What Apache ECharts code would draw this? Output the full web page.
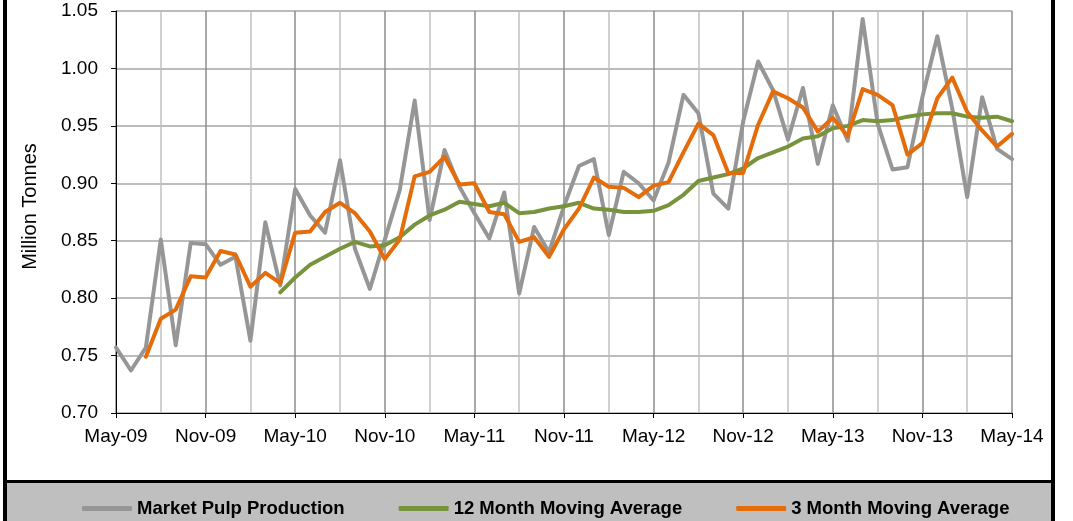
<!DOCTYPE html>
<html>
<head>
<meta charset="utf-8">
<script src="https://cdn.jsdelivr.net/npm/echarts@6/dist/echarts.min.js"></script>
<style>
  html, body { margin: 0; padding: 0; background: #fff; }
  #chartDom { width: 1073px; height: 521px; }
</style>
</head>
<body>
<div id="chartDom"></div>
<script>
// months on the x axis
var months = ['May-09', 'Jun-09', 'Jul-09', 'Aug-09', 'Sep-09', 'Oct-09', 'Nov-09', 'Dec-09',
  'Jan-10', 'Feb-10', 'Mar-10', 'Apr-10', 'May-10', 'Jun-10', 'Jul-10', 'Aug-10', 'Sep-10', 'Oct-10', 'Nov-10', 'Dec-10',
  'Jan-11', 'Feb-11', 'Mar-11', 'Apr-11', 'May-11', 'Jun-11', 'Jul-11', 'Aug-11', 'Sep-11', 'Oct-11', 'Nov-11', 'Dec-11',
  'Jan-12', 'Feb-12', 'Mar-12', 'Apr-12', 'May-12', 'Jun-12', 'Jul-12', 'Aug-12', 'Sep-12', 'Oct-12', 'Nov-12', 'Dec-12',
  'Jan-13', 'Feb-13', 'Mar-13', 'Apr-13', 'May-13', 'Jun-13', 'Jul-13', 'Aug-13', 'Sep-13', 'Oct-13', 'Nov-13', 'Dec-13',
  'Jan-14', 'Feb-14', 'Mar-14', 'Apr-14', 'May-14']

var production = [0.757, 0.737, 0.757, 0.851, 0.759, 0.848, 0.847, 0.829, 0.836, 0.763,
  0.866, 0.811, 0.895, 0.872, 0.857, 0.920, 0.843, 0.808, 0.851, 0.894,
  0.972, 0.868, 0.929, 0.897, 0.874, 0.852, 0.892, 0.804, 0.862, 0.840,
  0.880, 0.915, 0.921, 0.855, 0.910, 0.900, 0.885, 0.918, 0.977, 0.961,
  0.891, 0.878, 0.954, 1.006, 0.981, 0.938, 0.983, 0.917, 0.968, 0.937,
  1.043, 0.952, 0.912, 0.914, 0.975, 1.028, 0.965, 0.888, 0.975, 0.930, 0.921]

// 12 month average starts in Apr-10
var avg12 = ['-', '-', '-', '-', '-', '-', '-', '-', '-', '-',
  '-', 0.805, 0.818, 0.829, 0.836, 0.843, 0.849, 0.845, 0.846, 0.853,
  0.864, 0.872, 0.877, 0.884, 0.882, 0.880, 0.883, 0.874, 0.875, 0.878,
  0.880, 0.883, 0.878, 0.877, 0.875, 0.875, 0.876, 0.881, 0.890, 0.902,
  0.905, 0.908, 0.913, 0.922, 0.927, 0.932, 0.939, 0.941, 0.948, 0.950,
  0.955, 0.954, 0.955, 0.958, 0.960, 0.961, 0.961, 0.958, 0.957, 0.958, 0.954]

var avg3 = ['-', '-', 0.749, 0.782, 0.790, 0.819, 0.818, 0.841, 0.838, 0.810,
  0.822, 0.813, 0.857, 0.858, 0.875, 0.883, 0.874, 0.858, 0.834, 0.851,
  0.906, 0.910, 0.923, 0.899, 0.900, 0.875, 0.873, 0.849, 0.853, 0.836,
  0.860, 0.878, 0.905, 0.897, 0.896, 0.888, 0.898, 0.901, 0.927, 0.952,
  0.942, 0.909, 0.909, 0.951, 0.980, 0.974, 0.966, 0.945, 0.957, 0.941,
  0.982, 0.977, 0.968, 0.925, 0.935, 0.974, 0.992, 0.962, 0.946, 0.932, 0.943]

var seriesNames = ['Market Pulp Production', '12 Month Moving Average', '3 Month Moving Average']

var myChart = echarts.init(document.getElementById('chartDom'))
var font = 'Liberation Sans, Arial, sans-serif'

function lineSeries(name, data, color, z) {
  return {
    name: name,
    type: 'line',
    data: data,
    symbol: 'none',
    z: z,
    itemStyle: { color: color },
    lineStyle: { color: color, width: 4, cap: 'round', join: 'round' }
  }
}

var option = {
  animation: false,
  backgroundColor: '#fff',
  textStyle: { fontFamily: font },
  grid: { left: 116, right: 61, top: 11, bottom: 108 },
  graphic: [
    // legend band + frame
    { type: 'rect', z: -10, shape: { x: 6, y: 482, width: 1046, height: 40 }, style: { fill: '#bfbfbf' } },
    { type: 'line', z: 100, shape: { x1: 5, y1: 0, x2: 5, y2: 521 }, style: { stroke: '#000', lineWidth: 4 } },
    { type: 'line', z: 100, shape: { x1: 1053, y1: 0, x2: 1053, y2: 521 }, style: { stroke: '#000', lineWidth: 4 } },
    { type: 'line', z: 100, shape: { x1: 3, y1: 481.5, x2: 1055, y2: 481.5 }, style: { stroke: '#000', lineWidth: 3 } }
  ],
  legend: {
    data: seriesNames,
    left: 82,
    top: 499,
    padding: 0,
    itemGap: 54,
    itemWidth: 50,
    itemHeight: 5,
    icon: 'roundRect',
    textStyle: { fontFamily: font, fontSize: 18.5, fontWeight: 'bold', color: '#000' }
  },
  xAxis: [
    {
      type: 'category',
      data: months,
      boundaryGap: false,
      axisLine: { lineStyle: { color: '#000', width: 1 } },
      axisTick: { show: true, length: 5, interval: function (i) { return i % 6 === 0 }, lineStyle: { color: '#000' } },
      axisLabel: {
        interval: function (i) { return i % 6 === 0 },
        margin: 14,
        fontFamily: font,
        fontSize: 19,
        color: '#000'
      },
      splitLine: { show: true, interval: function (i) { return i % 6 === 0 }, lineStyle: { color: '#8c8c8c', width: 1.5 } }
    },
    {
      type: 'category',
      data: months,
      boundaryGap: false,
      position: 'bottom',
      axisLine: { show: false },
      axisTick: { show: false },
      axisLabel: { show: false },
      splitLine: { show: true, interval: function (i) { return i % 3 === 0 && i % 6 !== 0 }, lineStyle: { color: '#c0c0c0', width: 1.5 } }
    }
  ],
  yAxis: {
    type: 'value',
    min: 0.70,
    max: 1.05,
    interval: 0.05,
    name: 'Million Tonnes',
    nameLocation: 'middle',
    nameGap: 76,
    nameTextStyle: { fontFamily: font, fontSize: 20, color: '#000', padding: [0, 0, 0, 11] },
    axisLine: { show: true, lineStyle: { color: '#000', width: 1 } },
    axisTick: { show: true, length: 5, lineStyle: { color: '#000' } },
    axisLabel: {
      margin: 18,
      fontFamily: font,
      fontSize: 19,
      color: '#000',
      formatter: function (v) { return v.toFixed(2) }
    },
    splitLine: { lineStyle: { color: '#a6a6a6', width: 1.5 } }
  },
  series: [
    lineSeries(seriesNames[0], production, '#969696', 2),
    lineSeries(seriesNames[1], avg12, '#77933c', 3),
    lineSeries(seriesNames[2], avg3, '#e46c0a', 4)
  ]
}

option && myChart.setOption(option)
</script>
</body>
</html>
